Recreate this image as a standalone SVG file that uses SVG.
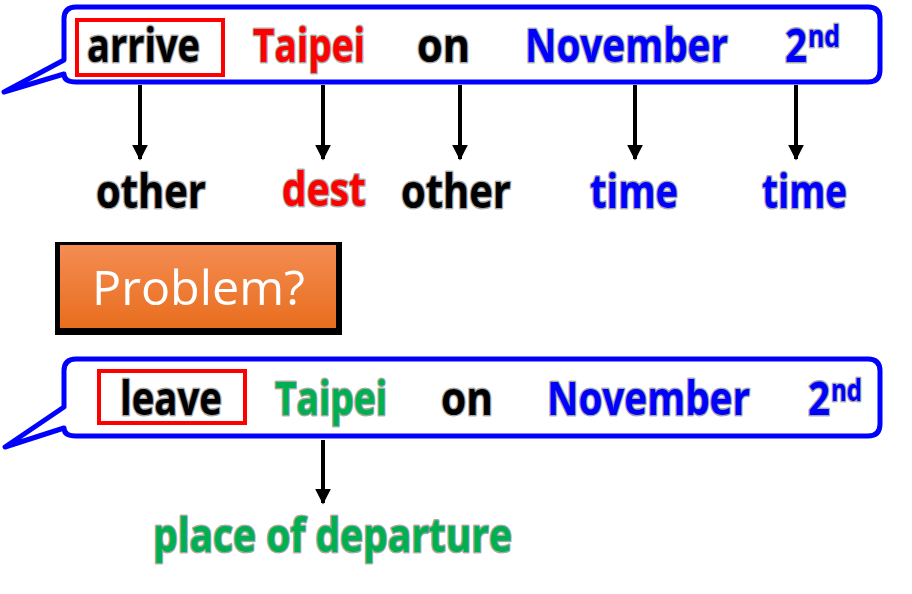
<svg xmlns="http://www.w3.org/2000/svg" width="912" height="594" viewBox="0 0 912 594">
<defs>
<style>
.w{font-family:"Open Sans","Liberation Sans",sans-serif;font-weight:bold;font-size:46px;paint-order:stroke;stroke:#000;stroke-opacity:0.35;stroke-width:3px;stroke-linejoin:round}
.sup{font-size:30px}
.k{fill:#000}.r{fill:#FF0000}.b{fill:#0000FF}.g{fill:#00B050}
.bub{fill:none;stroke:#0000FF;stroke-width:5;stroke-linejoin:round}
.sel{fill:none;stroke:#FF0000;stroke-width:4}
.arr{stroke:#000;stroke-width:4;fill:none}
</style>
<linearGradient id="og" x1="0" y1="0" x2="0" y2="1">
<stop offset="0" stop-color="#F48C52"/>
<stop offset="1" stop-color="#E86E1E"/>
</linearGradient>
<marker id="ah" viewBox="0 0 10 10" refX="9" refY="5" markerWidth="4" markerHeight="4.5" orient="auto" markerUnits="strokeWidth">
<path d="M0,0 L10,5 L0,10 Z" fill="#000"/>
</marker>
</defs>
<rect width="912" height="594" fill="#fff"/>

<g id="callout-top">
<path class="bub" d="M76,7 H868 Q880,7 880,19 V70 Q880,82 868,82 H76 Q64,82 64,74 L4,92 L64,60 V19 Q64,7 76,7 Z"/>
<rect class="sel" x="77" y="20" width="146" height="55"/>
<text class="w k" x="87" y="62" textLength="113" lengthAdjust="spacingAndGlyphs">arrive</text>
<text class="w r" x="253" y="62" textLength="112" lengthAdjust="spacingAndGlyphs">Taipei</text>
<text class="w k" x="417" y="62" textLength="53" lengthAdjust="spacingAndGlyphs">on</text>
<text class="w b" x="525" y="62" textLength="203" lengthAdjust="spacingAndGlyphs">November</text>
<text class="w b" x="785" y="62" textLength="22" lengthAdjust="spacingAndGlyphs">2</text>
<text class="w b sup" x="808" y="47" textLength="32" lengthAdjust="spacingAndGlyphs">nd</text>
</g>

<g id="labels-top">
<text class="w k" x="96" y="208" textLength="110" lengthAdjust="spacingAndGlyphs">other</text>
<text class="w r" x="282" y="206" textLength="84" lengthAdjust="spacingAndGlyphs">dest</text>
<text class="w k" x="401" y="208" textLength="110" lengthAdjust="spacingAndGlyphs">other</text>
<text class="w b" x="590" y="208" textLength="88" lengthAdjust="spacingAndGlyphs">time</text>
<text class="w b" x="762" y="208" textLength="85" lengthAdjust="spacingAndGlyphs">time</text>
</g>

<g id="connectors">
<line class="arr" x1="140" y1="85" x2="140" y2="159" marker-end="url(#ah)"/>
<line class="arr" x1="323" y1="85" x2="323" y2="159" marker-end="url(#ah)"/>
<line class="arr" x1="460" y1="85" x2="460" y2="159" marker-end="url(#ah)"/>
<line class="arr" x1="635" y1="85" x2="635" y2="159" marker-end="url(#ah)"/>
<line class="arr" x1="796" y1="85" x2="796" y2="159" marker-end="url(#ah)"/>
<line class="arr" x1="323" y1="440" x2="323" y2="503" marker-end="url(#ah)"/>
</g>

<g id="problem">
<rect x="55" y="242" width="287" height="93" fill="#000"/>
<rect x="60" y="245" width="276" height="83" fill="url(#og)"/>
<text x="92" y="305" font-family="'Open Sans','Liberation Sans',sans-serif" font-size="48" fill="#fff" textLength="213" lengthAdjust="spacingAndGlyphs">Problem?</text>
</g>

<g id="callout-bottom">
<path class="bub" d="M76,359 H868 Q880,359 880,371 V424 Q880,436 868,436 H76 Q64,436 64,428 L5,447 L64,407 V371 Q64,359 76,359 Z"/>
<rect class="sel" x="99" y="371" width="146" height="52"/>
<text class="w k" x="120" y="415" textLength="102" lengthAdjust="spacingAndGlyphs">leave</text>
<text class="w g" x="275" y="415" textLength="112" lengthAdjust="spacingAndGlyphs">Taipei</text>
<text class="w k" x="441" y="415" textLength="52" lengthAdjust="spacingAndGlyphs">on</text>
<text class="w b" x="547" y="415" textLength="203" lengthAdjust="spacingAndGlyphs">November</text>
<text class="w b" x="808" y="415" textLength="22" lengthAdjust="spacingAndGlyphs">2</text>
<text class="w b sup" x="831" y="401" textLength="31" lengthAdjust="spacingAndGlyphs">nd</text>
</g>

<g id="label-bottom">
<text class="w g" x="153" y="552" textLength="359" lengthAdjust="spacingAndGlyphs">place of departure</text>
</g>
</svg>
